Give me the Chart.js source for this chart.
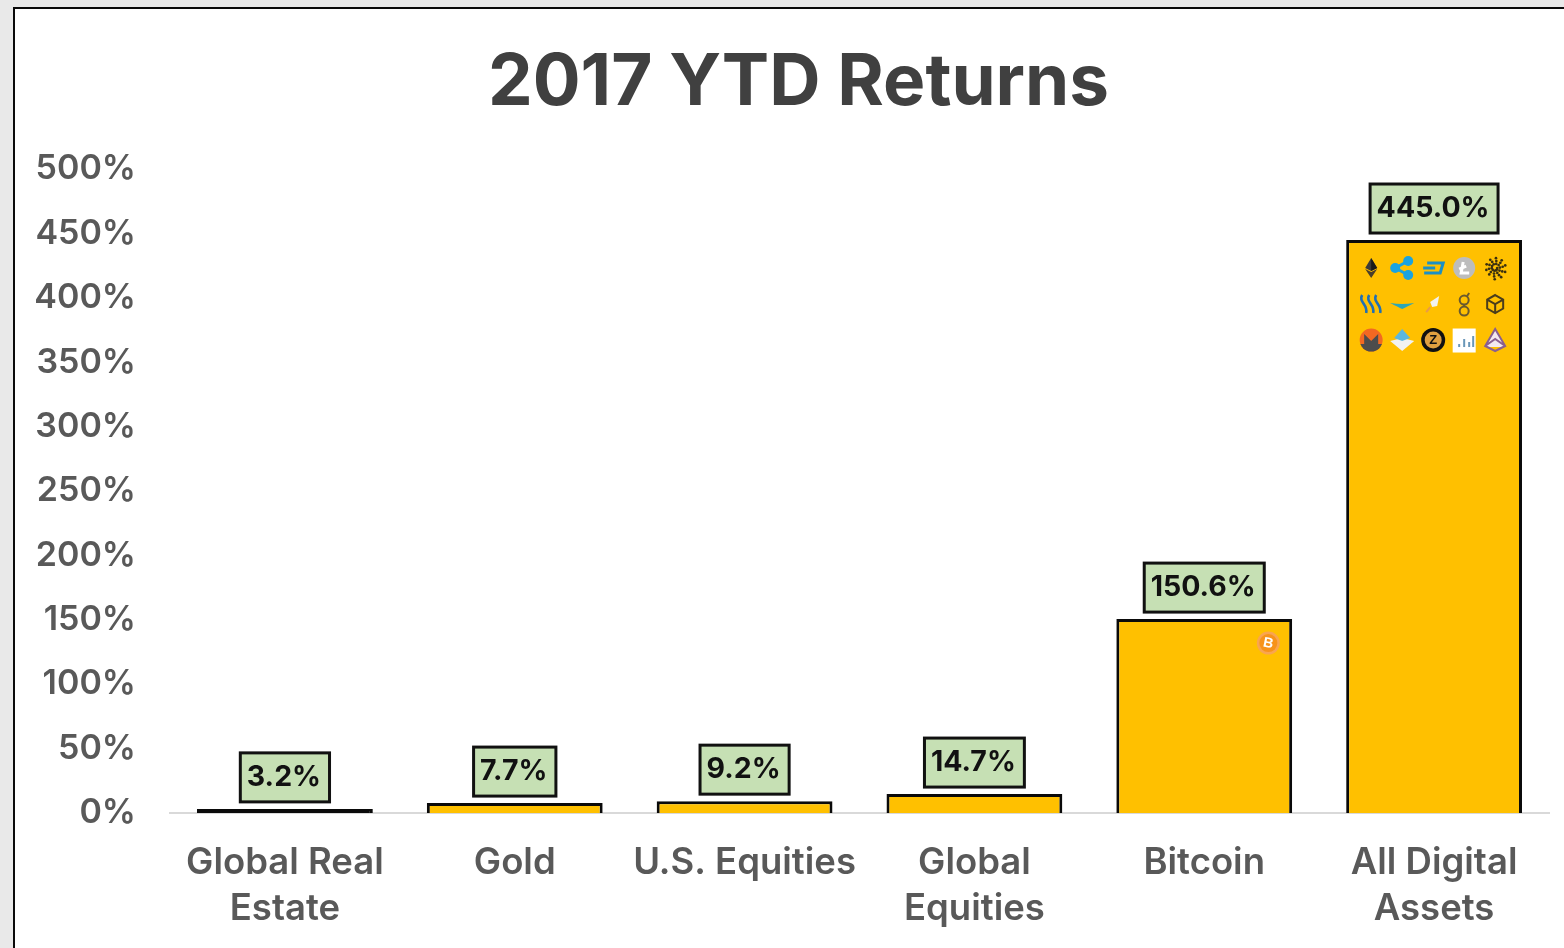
<!DOCTYPE html>
<html><head><meta charset="utf-8">
<style>html,body{margin:0;padding:0;background:#e9e9e9;overflow:hidden}canvas{display:block}</style>
<script src="https://cdn.jsdelivr.net/npm/chart.js@4/dist/chart.umd.min.js"></script>
</head><body><canvas id="c" width="1564" height="948"></canvas>
<script>
const categories=[["Global Real","Estate"],["Gold"],["U.S. Equities"],["Global","Equities"],["Bitcoin"],["All Digital","Assets"]];
const returnsPct=[3.2,7.7,9.2,14.7,150.6,445.0];
const valueLabels=["3.2%","7.7%","9.2%","14.7%","150.6%","445.0%"];
const tickStep=50, tickMax=500;
const bitcoinIcons=[["btc"]];
const digitalIcons=[["eth","xrp","dash","ltc","iota"],["steem","wings","xlm","gno","box"],["xmr","waves","zec","bars","ark"]];

function circle(g,x,y,r,c){g.fillStyle=c;g.beginPath();g.arc(x,y,r,0,7);g.fill();}
function poly(g,pts,c){g.fillStyle=c;g.beginPath();pts.forEach((p,i)=>i?g.lineTo(p[0],p[1]):g.moveTo(p[0],p[1]));g.closePath();g.fill();}
const draw={
 btc(g,x,y){circle(g,x,y,11.5,'#f9a550');circle(g,x,y,9,'#f7931a');g.save();g.translate(x,y);g.rotate(0.2);g.fillStyle='#fff';g.font='bold 14px "Liberation Sans"';g.textAlign='center';g.textBaseline='middle';g.fillText('B',0,.5);g.restore();},
 eth(g,x,y){poly(g,[[x,y-10],[x+6,y],[x,y+3],[x-6,y]],'#3a3a3a');poly(g,[[x,y-10],[x+6,y],[x,y+3]],'#1a1a1a');poly(g,[[x-6,y+1],[x,y+4],[x+6,y+1],[x,y+10]],'#4a3f2a');},
 xrp(g,x,y){g.strokeStyle='#1aa3e0';g.lineWidth=3;g.beginPath();g.moveTo(x-7,y);g.lineTo(x+6,y-7);g.moveTo(x-7,y);g.lineTo(x+6,y+7);g.stroke();circle(g,x-7,y,5,'#1aa3e0');circle(g,x+6,y-7,5,'#1aa3e0');circle(g,x+6,y+7,5,'#1aa3e0');},
 dash(g,x,y){g.strokeStyle='#1c8fc4';g.lineWidth=3;g.beginPath();g.moveTo(x-6,y-5);g.lineTo(x+10,y-5);g.lineTo(x+7,y+5);g.lineTo(x-9,y+5);g.moveTo(x-10,y);g.lineTo(x+2,y);g.stroke();},
 ltc(g,x,y){circle(g,x,y,11,'#bdbdbd');g.strokeStyle='#fff';g.lineWidth=3;g.beginPath();g.moveTo(x-1,y-6);g.lineTo(x-3,y+5);g.lineTo(x+5,y+5);g.moveTo(x-5,y+1);g.lineTo(x+2,y-2);g.stroke();},
 iota(g,x,y){g.fillStyle='#3a2f10';for(let i=0;i<34;i++){const a=i*0.62,r=2+i*0.28;g.beginPath();g.arc(x+r*Math.cos(a),y+r*Math.sin(a),1.35,0,7);g.fill();}},
 steem(g,x,y){g.strokeStyle='#1f6fb5';g.lineWidth=2.6;[-7,0,7].forEach(d=>{g.beginPath();g.moveTo(x+d-2,y-9);g.bezierCurveTo(x+d-6,y-2,x+d+4,y,x+d+2,y+9);g.stroke();});},
 wings(g,x,y){g.fillStyle='#2ba6b8';g.beginPath();g.moveTo(x-12,y-1);g.quadraticCurveTo(x,y+1,x+12,y-1);g.quadraticCurveTo(x+4,y+3,x,y+5);g.quadraticCurveTo(x-4,y+3,x-12,y-1);g.fill();},
 xlm(g,x,y){poly(g,[[x+6,y-8],[x+4,y+2],[x-1,y+3],[x-3,y-2]],'#f2f2f2');g.strokeStyle='#e89a4a';g.lineWidth=2;g.beginPath();g.moveTo(x-3,y+3);g.lineTo(x-7,y+8);g.stroke();},
 gno(g,x,y){g.strokeStyle='#6b5a2e';g.lineWidth=2;g.beginPath();g.arc(x,y-4,4.5,0,7);g.stroke();g.beginPath();g.arc(x,y+7,4.5,0,7);g.stroke();g.beginPath();g.moveTo(x,y+.5);g.lineTo(x,y+2.5);g.moveTo(x+3,y-8);g.lineTo(x+5,y-11);g.stroke();},
 box(g,x,y){g.strokeStyle='#4a3d1c';g.lineWidth=2;g.beginPath();g.moveTo(x,y-9);g.lineTo(x+8,y-4.5);g.lineTo(x+8,y+4.5);g.lineTo(x,y+9);g.lineTo(x-8,y+4.5);g.lineTo(x-8,y-4.5);g.closePath();g.moveTo(x-8,y-4.5);g.lineTo(x,y);g.lineTo(x+8,y-4.5);g.moveTo(x,y);g.lineTo(x,y+9);g.stroke();},
 xmr(g,x,y){circle(g,x,y,11.5,'#f26822');g.save();g.beginPath();g.arc(x,y,11.5,0,7);g.clip();poly(g,[[x-13,y+4],[x-7,y+4],[x-7,y-6],[x,y+1],[x+7,y-6],[x+7,y+4],[x+13,y+4],[x+13,y+13],[x-13,y+13]],'#4c4c4c');g.restore();},
 waves(g,x,y){poly(g,[[x,y-2],[x+12,y+1],[x,y+11],[x-12,y+1]],'#f2f2f2');poly(g,[[x,y-11],[x+8,y-2],[x,y+1],[x-8,y-2]],'#5bb7e0');},
 zec(g,x,y){circle(g,x,y,12,'#111');circle(g,x,y,8.5,'#e0a040');g.fillStyle='#111';g.font='bold 13px "Liberation Sans"';g.textAlign='center';g.textBaseline='middle';g.fillText('Z',x,y+.5);},
 bars(g,x,y){g.fillStyle='#fff';g.fillRect(x-11.5,y-11.5,23,24);g.fillStyle='#6a97b8';[[-6,3],[-1,8],[4,5],[8,11]].forEach(b=>g.fillRect(x+b[0],y+7-b[1],2,b[1]));},
 ark(g,x,y){poly(g,[[x,y-11],[x+10,y+7],[x-10,y+7]],'#f3e9ef');g.strokeStyle='#8a5f8f';g.lineWidth=2;g.beginPath();g.moveTo(x,y-11);g.lineTo(x+10,y+6);g.lineTo(x,y+11);g.lineTo(x-10,y+6);g.closePath();g.moveTo(x-10,y+6);g.lineTo(x,y-1);g.lineTo(x+10,y+6);g.stroke();}
};

const framePlugin={id:'frame',
 afterLayout(ch){ch.titleBlock.left=48;},
 beforeDraw(ch){const g=ch.ctx;g.save();g.fillStyle='#e9e9e9';g.fillRect(0,0,ch.width,ch.height);g.fillStyle='#fff';g.fillRect(14,8,ch.width,ch.height);g.fillStyle='#0a0a0a';g.fillRect(13,7,ch.width,2);g.fillRect(13,7,2,ch.height);g.restore();}};
const labelPlugin={id:'valueBoxes',afterDatasetsDraw(ch){const g=ch.ctx,els=ch.getDatasetMeta(0).data;g.save();
 g.font='700 28.5px Inter, "Open Sans"';g.textAlign='center';g.textBaseline='middle';
 els.forEach((el,i)=>{const t=valueLabels[i],w=g.measureText(t).width+15,h=49,top=el.y-7-h,cx=el.x;
  g.fillStyle='#c6e0b4';g.fillRect(cx-w/2,top,w,h);g.strokeStyle='#111';g.lineWidth=3;g.strokeRect(cx-w/2,top,w,h);
  g.fillStyle='#111';g.fillText(t,cx-1,top+h/2);});
 const place=(el,grid,dx,dy,ox,oy)=>grid.forEach((row,r)=>row.forEach((n,c)=>{const half=el.width/2;draw[n](g,el.x-half+ox+c*dx,el.y+oy+r*dy);}));
 place(els[4],bitcoinIcons,0,0,152,24);
 place(els[5],digitalIcons,31,36,25,28);
 g.restore();}};

new Chart(document.getElementById('c'),{
 type:'bar',
 data:{labels:categories,datasets:[{data:returnsPct,backgroundColor:['#0a0a0a','#ffc000','#ffc000','#ffc000','#ffc000','#ffc000'],borderColor:'#0a0a0a',borderWidth:3,borderSkipped:'bottom',categoryPercentage:1,barPercentage:0.765}]},
 plugins:[framePlugin,labelPlugin],
 options:{responsive:false,animation:false,devicePixelRatio:1,
  layout:{padding:{left:34,right:15,top:41,bottom:0}},
  plugins:{legend:{display:false},tooltip:{enabled:false},
   title:{display:true,text:'2017 YTD Returns',color:'#404040',font:{family:'Inter',size:71,weight:'700'},padding:{top:0,bottom:43}}},
  scales:{
   x:{grid:{display:false,drawTicks:false},border:{color:'#d9d9d9',width:2},
      ticks:{color:'#595959',font:{family:'Inter',size:36.5,weight:'600',lineHeight:1.26},padding:27,maxRotation:0,autoSkip:false},
      afterFit(s){s.height=135;}},
   y:{min:0,max:tickMax,grid:{display:false,drawTicks:false},border:{display:false},
      ticks:{stepSize:tickStep,color:'#595959',font:{family:'Inter',size:34,weight:'600'},padding:34,callback:v=>v+'%'},
      afterFit(s){s.width=136;}}
  }}
});
</script></body></html>
